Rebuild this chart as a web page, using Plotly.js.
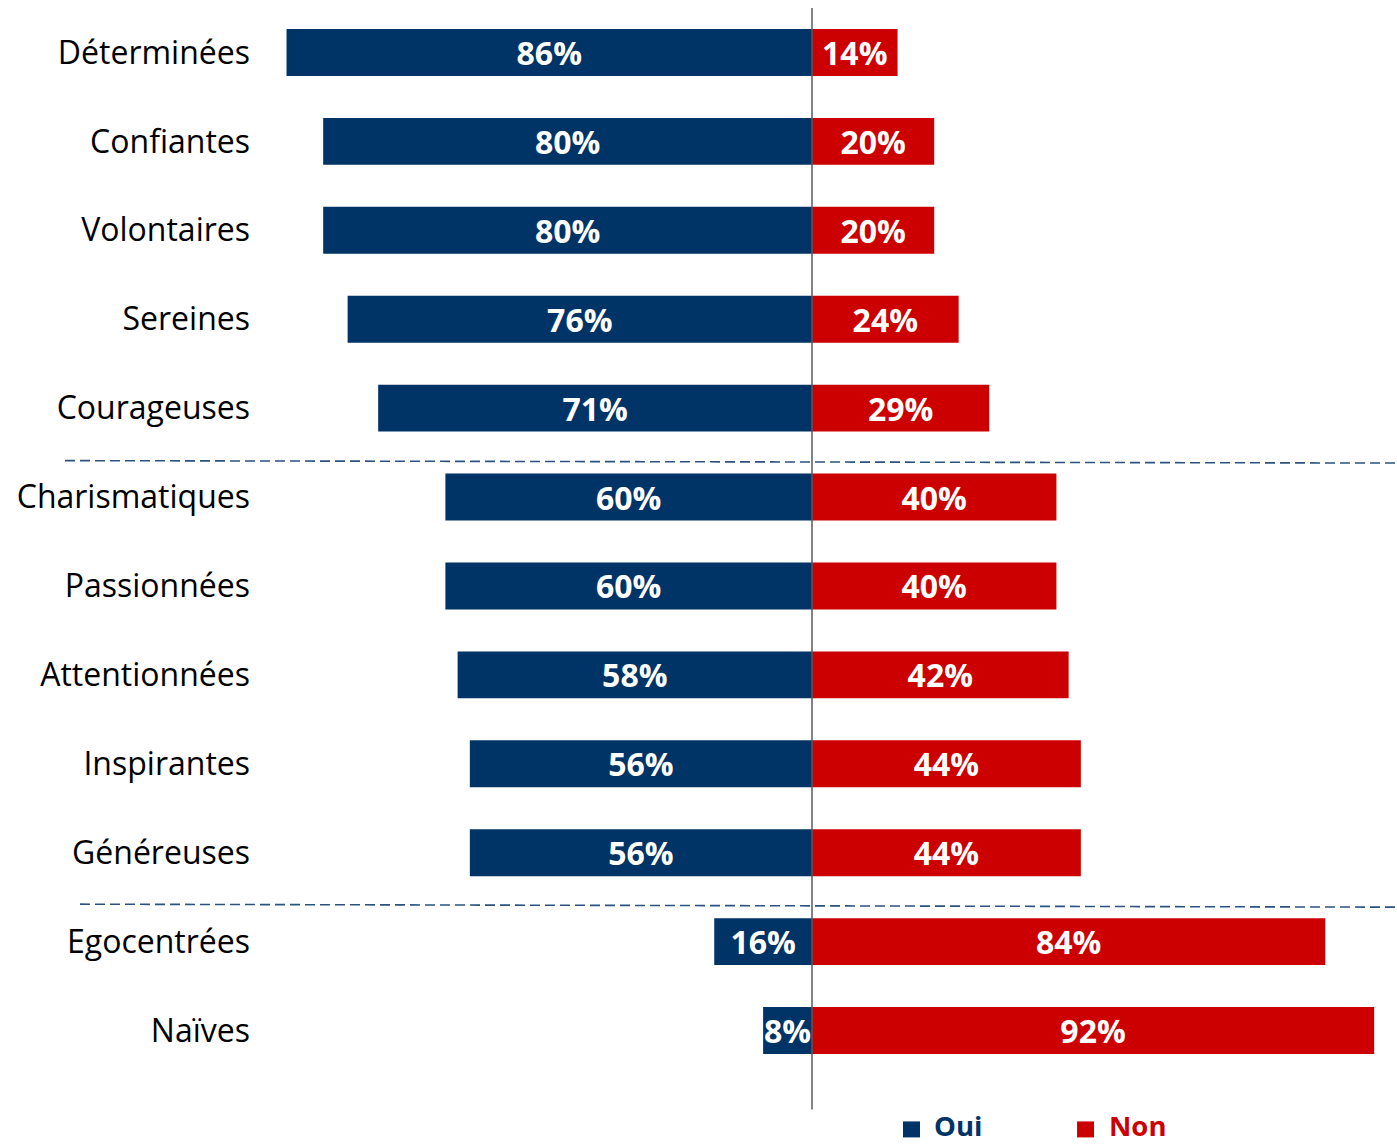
<!DOCTYPE html>
<html>
<head>
<meta charset="utf-8">
<script src="https://cdn.plot.ly/plotly-3.0.1.min.js"></script>
<style>
  html, body { margin: 0; padding: 0; background: #ffffff; }
  #chart { width: 1397px; height: 1144px; }
</style>
</head>
<body>
<div id="chart"></div>
<script>
const categories = ["Déterminées", "Confiantes", "Volontaires", "Sereines", "Courageuses",
  "Charismatiques", "Passionnées", "Attentionnées", "Inspirantes", "Généreuses",
  "Egocentrées", "Naïves"];
const ouiValues = [86, 80, 80, 76, 71, 60, 60, 58, 56, 56, 16, 8];
const nonValues = [14, 20, 20, 24, 29, 40, 40, 42, 44, 44, 84, 92];
const seriesNames = ["Oui", "Non"];

const BLUE = "#003366";
const RED = "#cc0000";
const FONT = "'Open Sans', Lato, sans-serif";
const seriesColors = [BLUE, RED];

const labelFont = { family: FONT, size: 32, color: "#ffffff", weight: "bold" };

const traces = [
  {
    type: "bar", orientation: "h", name: seriesNames[0],
    y: categories, x: ouiValues.map(v => -v), customdata: ouiValues,
    texttemplate: "%{customdata}%", textposition: "inside", insidetextanchor: "middle",
    constraintext: "none", cliponaxis: false,
    textfont: labelFont,
    marker: { color: BLUE, line: { width: 0 } },
    hoverinfo: "skip", showlegend: false
  },
  {
    type: "bar", orientation: "h", name: seriesNames[1],
    y: categories, x: nonValues, customdata: nonValues,
    texttemplate: "%{customdata}%", textposition: "inside", insidetextanchor: "middle",
    constraintext: "none", cliponaxis: false,
    textfont: labelFont,
    marker: { color: RED, line: { width: 0 } },
    hoverinfo: "skip", showlegend: false
  }
];

// legend built from series names (squares + coloured bold text)
const legendSquareX = [[0.5655, 0.5805], [0.7186, 0.7335]];
const legendTextX = [0.5920, 0.7460];
const legendShapes = seriesNames.map((n, i) => ({
  type: "rect", xref: "paper", yref: "paper",
  x0: legendSquareX[i][0], x1: legendSquareX[i][1], y0: -0.0585, y1: -0.0435,
  fillcolor: seriesColors[i], line: { width: 0 }
}));
const legendAnnotations = seriesNames.map((n, i) => ({
  xref: "paper", yref: "paper", x: legendTextX[i], y: -0.0477,
  xanchor: "left", yanchor: "middle", showarrow: false, borderpad: 0,
  text: "<b>" + n + "</b>",
  font: { family: FONT, size: 27.5, color: seriesColors[i] }
}));

const layout = {
  width: 1397, height: 1144,
  margin: { l: 260, r: 0, t: 7.5, b: 68.5, autoexpand: false },
  paper_bgcolor: "#ffffff", plot_bgcolor: "#ffffff",
  barmode: "relative",
  bargap: 0.472,
  showlegend: false,
  font: { family: FONT, color: "#000000" },
  xaxis: {
    range: [-90.34, 95.74], visible: false, fixedrange: true
  },
  yaxis: {
    type: "category", range: [11.5, -0.5],
    showgrid: false, zeroline: false, showline: false,
    ticks: "", ticklabelstandoff: 9,
    tickfont: { family: FONT, size: 32, color: "#000000" }
  },
  annotations: legendAnnotations,
  shapes: [
    { type: "line", xref: "paper", yref: "paper", x0: 0.4855, x1: 0.4855, y0: 1.0, y1: -0.0323,
      line: { color: "#595959", width: 1.5 }, layer: "above" },
    { type: "line", xref: "paper", yref: "paper", x0: -0.1715, x1: 1.0, y0: 0.5758, y1: 0.5735,
      line: { color: "#2b5280", width: 1.6, dash: "10px,5px" }, layer: "above" },
    { type: "line", xref: "paper", yref: "paper", x0: -0.1583, x1: 1.0, y0: 0.1601, y1: 0.1573,
      line: { color: "#2b5280", width: 1.6, dash: "10px,5px" }, layer: "above" }
  ].concat(legendShapes)
};

Plotly.newPlot("chart", traces, layout, { staticPlot: true, displayModeBar: false });
</script>
</body>
</html>
